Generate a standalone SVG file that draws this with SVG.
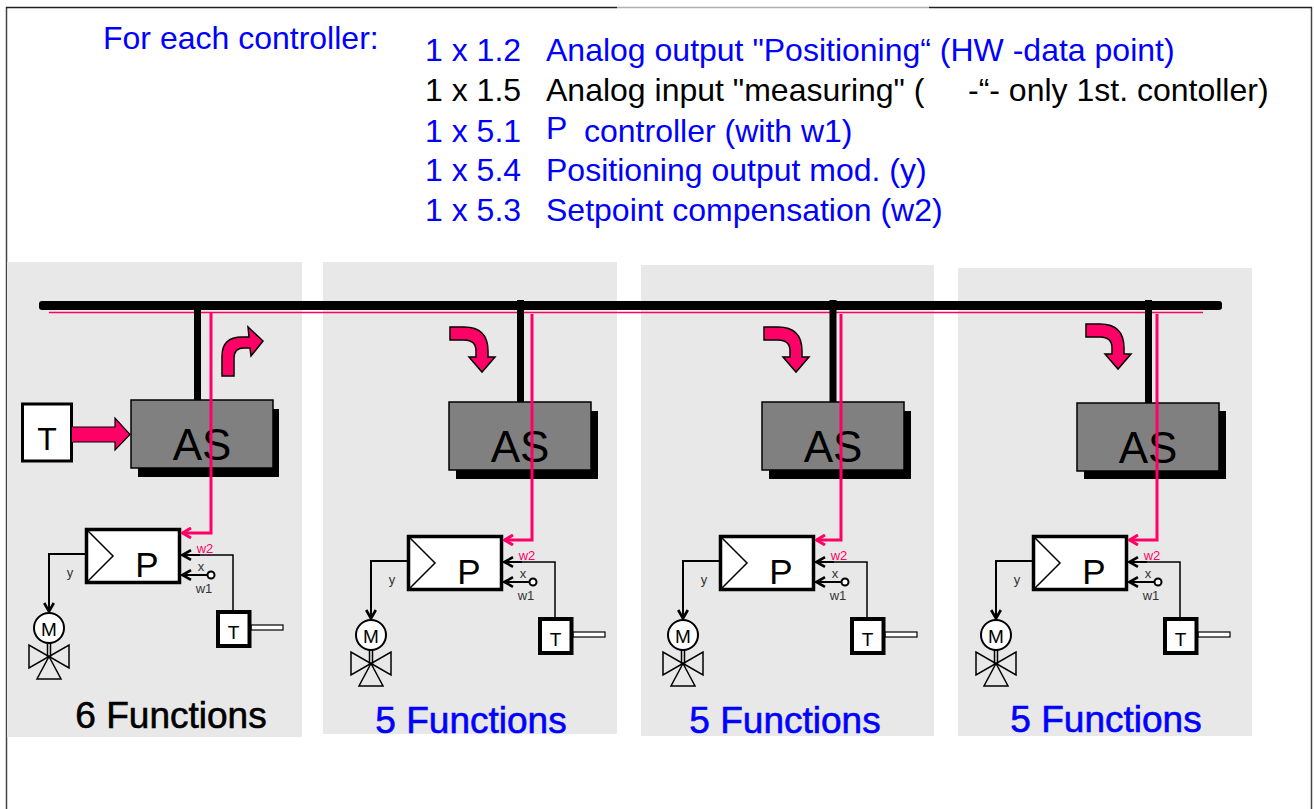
<svg xmlns="http://www.w3.org/2000/svg" width="1314" height="809" viewBox="0 0 1314 809">
<defs>
<style>
text{font-family:"Liberation Sans",Arial,sans-serif}
.panel{fill:#e8e8e8}
.top{font-size:32px}
.blue{fill:#0000ff}
.blk{fill:#000}
.as{fill:#808080;stroke:#000;stroke-width:1.5}
.shadow{fill:#000}
.astxt{font-size:44px;text-anchor:middle;fill:#000}
.bigarrow{fill:#ff0066;stroke:#000;stroke-width:1.5;stroke-linejoin:miter}
.pbox{fill:#fff;stroke:#000;stroke-width:3.5}
.thin{fill:none;stroke:#000;stroke-width:1.5}
.sig{fill:none;stroke:#000;stroke-width:2}
.pink{fill:none;stroke:#ff0066;stroke-width:3}
.lbl{font-size:13px;fill:#333}
.func{font-size:37px;text-anchor:middle;stroke-width:0.6}
.func.blk{stroke:#000}
.func.blue{stroke:#0000ff}
</style>
<marker id="ah" viewBox="0 0 12 12" refX="11" refY="6" markerWidth="12" markerHeight="12" markerUnits="userSpaceOnUse" orient="auto">
<path d="M2,1.2 L10.5,6 L2,10.8" fill="none" stroke="#000" stroke-width="2.6"/>
</marker>
<marker id="ahp" viewBox="0 0 12 12" refX="11" refY="6" markerWidth="12" markerHeight="12" markerUnits="userSpaceOnUse" orient="auto">
<path d="M2,1 L10.5,6 L2,11" fill="none" stroke="#ff0066" stroke-width="3"/>
</marker>
</defs>
<rect width="1314" height="809" fill="#fff"/>

<g id="frame">
<line x1="6.5" y1="7" x2="6.5" y2="809" stroke="#444" stroke-width="1.5"/>
<line x1="1311.5" y1="7" x2="1311.5" y2="809" stroke="#444" stroke-width="1.5"/>
<line x1="6" y1="7.5" x2="617" y2="7.5" stroke="#222" stroke-width="1.5"/>
<line x1="617" y1="7.5" x2="929" y2="7.5" stroke="#b0b0b0" stroke-width="1.5"/>
<line x1="929" y1="7.5" x2="1312" y2="7.5" stroke="#222" stroke-width="1.5"/>
</g>

<g id="header">
<text class="top blue" x="103" y="49">For each controller:</text>
<text class="top blue" y="61"><tspan x="425">1 x 1.2</tspan><tspan x="546">Analog output "Positioning“ (HW -data point)</tspan></text>
<text class="top blk" y="101"><tspan x="425">1 x 1.5</tspan><tspan x="546">Analog input "measuring" (</tspan><tspan x="968">-“- only 1st. contoller)</tspan></text>
<text class="top blue" y="142"><tspan x="425">1 x 5.1</tspan><tspan x="546" y="139">P</tspan><tspan x="584" y="142">controller (with w1)</tspan></text>
<text class="top blue" y="181"><tspan x="425">1 x 5.4</tspan><tspan x="546">Positioning output mod. (y)</tspan></text>
<text class="top blue" y="221"><tspan x="425">1 x 5.3</tspan><tspan x="546">Setpoint compensation (w2)</tspan></text>
</g>

<g id="panels">
<rect class="panel" x="7" y="262" width="295" height="475"/>
<rect class="panel" x="323" y="262" width="294" height="472"/>
<rect class="panel" x="641" y="265" width="293" height="471"/>
<rect class="panel" x="958" y="268" width="294" height="468"/>
</g>

<g id="bus">
<rect x="39" y="301" width="1183" height="9" rx="3" fill="#000"/>
<line x1="49" y1="312.5" x2="1203" y2="312.5" stroke="#ff0066" stroke-width="1.6"/>
</g>

<g id="connectors">
<rect x="194" y="309" width="7" height="92" fill="#000"/>
<rect x="517" y="300" width="7" height="103" fill="#000"/>
<rect x="829.5" y="300" width="7" height="103" fill="#000"/>
<rect x="1145" y="300" width="7" height="104" fill="#000"/>
</g>

<g id="as1"><rect class="shadow" x="138" y="409" width="141" height="68"/><rect class="as" x="131" y="400" width="142" height="68"/><text class="astxt" x="202" y="460">AS</text></g>
<g id="as2"><rect class="shadow" x="456" y="411" width="142" height="68"/><rect class="as" x="449" y="402" width="142" height="68"/><text class="astxt" x="520" y="462">AS</text></g>
<g id="as3"><rect class="shadow" x="769" y="411" width="142" height="68"/><rect class="as" x="762" y="402" width="142" height="68"/><text class="astxt" x="833" y="462">AS</text></g>
<g id="as4"><rect class="shadow" x="1084" y="411" width="142" height="68"/><rect class="as" x="1077" y="403" width="142" height="68"/><text class="astxt" x="1148" y="463">AS</text></g>

<g id="t-input">
<rect x="22.5" y="404" width="49" height="57" fill="#fff" stroke="#000" stroke-width="3"/>
<text x="47" y="450" font-size="32" text-anchor="middle">T</text>
</g>
<g id="input-arrow">
<path d="M72,427 L115,427 L115,418 L130,434.5 L115,450 L115,442 L72,442 Z" fill="#ff0066"/>
<path d="M73,427 L115,427 L115,418 L130,434.5 L115,450 L115,442 L73,442" fill="none" stroke="#000" stroke-width="1.2"/>
</g>

<g id="turn-arrows">
<path class="bigarrow" d="M222,376 L222,356 Q222,337 242,337 L249,337 L248,327 L263,341 L251,356 L250,348 L244,348 Q234,348 234,358 L234,376 Z"/>
<path class="bigarrow" d="M450,327 L464,327 Q488,327 488,351 L488,357 L495,357 L482,372 L469,357 L476,357 L476,351 Q476,340 464,340 L450,340 Z"/>
<path class="bigarrow" transform="translate(314,0)" d="M450,327 L464,327 Q488,327 488,351 L488,357 L495,357 L482,372 L469,357 L476,357 L476,351 Q476,340 464,340 L450,340 Z"/>
<path class="bigarrow" transform="translate(636,-3)" d="M450,327 L464,327 Q488,327 488,351 L488,357 L495,357 L482,372 L469,357 L476,357 L476,351 Q476,340 464,340 L450,340 Z"/>
</g>

<g id="signal-lines">
<g id="sig1">
<polyline class="sig" points="86,554 49,554 49,612" marker-end="url(#ah)"/>
<polyline class="thin" points="233,612 233,555 200,555"/>
<line class="sig" x1="200" y1="555" x2="182" y2="555" marker-end="url(#ah)"/>
<line class="sig" x1="207.5" y1="575" x2="182" y2="575" marker-end="url(#ah)"/>
</g>
<g id="sig2" transform="translate(322,7)">
<polyline class="sig" points="86,554 49,554 49,612" marker-end="url(#ah)"/>
<polyline class="thin" points="233,612 233,555 200,555"/>
<line class="sig" x1="200" y1="555" x2="182" y2="555" marker-end="url(#ah)"/>
<line class="sig" x1="207.5" y1="575" x2="182" y2="575" marker-end="url(#ah)"/>
</g>
<g id="sig3" transform="translate(634,7)">
<polyline class="sig" points="86,554 49,554 49,612" marker-end="url(#ah)"/>
<polyline class="thin" points="233,612 233,555 200,555"/>
<line class="sig" x1="200" y1="555" x2="182" y2="555" marker-end="url(#ah)"/>
<line class="sig" x1="207.5" y1="575" x2="182" y2="575" marker-end="url(#ah)"/>
</g>
<g id="sig4" transform="translate(947,7)">
<polyline class="sig" points="86,554 49,554 49,612" marker-end="url(#ah)"/>
<polyline class="thin" points="233,612 233,555 200,555"/>
<line class="sig" x1="200" y1="555" x2="182" y2="555" marker-end="url(#ah)"/>
<line class="sig" x1="207.5" y1="575" x2="182" y2="575" marker-end="url(#ah)"/>
</g>
</g>

<g id="controller1">
<rect class="pbox" x="86.5" y="529.5" width="93" height="53"/>
<polyline class="thin" points="87,530 113,556 87,582"/>
<text x="147" y="577" font-size="35" text-anchor="middle">P</text>
<text class="lbl" x="70" y="577" text-anchor="middle">y</text>
<text x="205" y="553" font-size="13" fill="#ff0066" text-anchor="middle">w2</text>
<text class="lbl" x="201" y="571" text-anchor="middle">x</text>
<text class="lbl" x="204" y="593" text-anchor="middle">w1</text>
<circle cx="211" cy="575" r="3.5" fill="#fff" stroke="#000" stroke-width="2"/>
</g>
<g id="controller2" transform="translate(322,7)">
<rect class="pbox" x="86.5" y="529.5" width="93" height="53"/>
<polyline class="thin" points="87,530 113,556 87,582"/>
<text x="147" y="577" font-size="35" text-anchor="middle">P</text>
<text class="lbl" x="70" y="577" text-anchor="middle">y</text>
<text x="205" y="553" font-size="13" fill="#ff0066" text-anchor="middle">w2</text>
<text class="lbl" x="201" y="571" text-anchor="middle">x</text>
<text class="lbl" x="204" y="593" text-anchor="middle">w1</text>
<circle cx="211" cy="575" r="3.5" fill="#fff" stroke="#000" stroke-width="2"/>
</g>
<g id="controller3" transform="translate(634,7)">
<rect class="pbox" x="86.5" y="529.5" width="93" height="53"/>
<polyline class="thin" points="87,530 113,556 87,582"/>
<text x="147" y="577" font-size="35" text-anchor="middle">P</text>
<text class="lbl" x="70" y="577" text-anchor="middle">y</text>
<text x="205" y="553" font-size="13" fill="#ff0066" text-anchor="middle">w2</text>
<text class="lbl" x="201" y="571" text-anchor="middle">x</text>
<text class="lbl" x="204" y="593" text-anchor="middle">w1</text>
<circle cx="211" cy="575" r="3.5" fill="#fff" stroke="#000" stroke-width="2"/>
</g>
<g id="controller4" transform="translate(947,7)">
<rect class="pbox" x="86.5" y="529.5" width="93" height="53"/>
<polyline class="thin" points="87,530 113,556 87,582"/>
<text x="147" y="577" font-size="35" text-anchor="middle">P</text>
<text class="lbl" x="70" y="577" text-anchor="middle">y</text>
<text x="205" y="553" font-size="13" fill="#ff0066" text-anchor="middle">w2</text>
<text class="lbl" x="201" y="571" text-anchor="middle">x</text>
<text class="lbl" x="204" y="593" text-anchor="middle">w1</text>
<circle cx="211" cy="575" r="3.5" fill="#fff" stroke="#000" stroke-width="2"/>
</g>

<g id="actuator1">
<line class="thin" x1="47.5" y1="642" x2="47.5" y2="657"/><line class="thin" x1="50.5" y1="642" x2="50.5" y2="657"/>
<circle cx="49" cy="628" r="15" fill="#fff" stroke="#000" stroke-width="2"/>
<text x="49" y="635.5" font-size="19" text-anchor="middle">M</text>
<polygon class="thin" points="29,645 29,668 49,656.5"/><polygon class="thin" points="69,645 69,668 49,656.5"/><polygon class="thin" points="49,656.5 37,679 61,679"/>
</g>
<g id="actuator2" transform="translate(322,7)">
<line class="thin" x1="47.5" y1="642" x2="47.5" y2="657"/><line class="thin" x1="50.5" y1="642" x2="50.5" y2="657"/>
<circle cx="49" cy="628" r="15" fill="#fff" stroke="#000" stroke-width="2"/>
<text x="49" y="635.5" font-size="19" text-anchor="middle">M</text>
<polygon class="thin" points="29,645 29,668 49,656.5"/><polygon class="thin" points="69,645 69,668 49,656.5"/><polygon class="thin" points="49,656.5 37,679 61,679"/>
</g>
<g id="actuator3" transform="translate(634,7)">
<line class="thin" x1="47.5" y1="642" x2="47.5" y2="657"/><line class="thin" x1="50.5" y1="642" x2="50.5" y2="657"/>
<circle cx="49" cy="628" r="15" fill="#fff" stroke="#000" stroke-width="2"/>
<text x="49" y="635.5" font-size="19" text-anchor="middle">M</text>
<polygon class="thin" points="29,645 29,668 49,656.5"/><polygon class="thin" points="69,645 69,668 49,656.5"/><polygon class="thin" points="49,656.5 37,679 61,679"/>
</g>
<g id="actuator4" transform="translate(947,7)">
<line class="thin" x1="47.5" y1="642" x2="47.5" y2="657"/><line class="thin" x1="50.5" y1="642" x2="50.5" y2="657"/>
<circle cx="49" cy="628" r="15" fill="#fff" stroke="#000" stroke-width="2"/>
<text x="49" y="635.5" font-size="19" text-anchor="middle">M</text>
<polygon class="thin" points="29,645 29,668 49,656.5"/><polygon class="thin" points="69,645 69,668 49,656.5"/><polygon class="thin" points="49,656.5 37,679 61,679"/>
</g>

<g id="sensor1">
<rect x="251" y="625" width="32" height="5" fill="#fff" stroke="#000" stroke-width="1.2"/>
<rect x="218" y="612" width="31.5" height="34" fill="#fff" stroke="#000" stroke-width="4"/>
<text x="233.5" y="639" font-size="19" text-anchor="middle">T</text>
</g>
<g id="sensor2" transform="translate(322,7)">
<rect x="251" y="625" width="32" height="5" fill="#fff" stroke="#000" stroke-width="1.2"/>
<rect x="218" y="612" width="31.5" height="34" fill="#fff" stroke="#000" stroke-width="4"/>
<text x="233.5" y="639" font-size="19" text-anchor="middle">T</text>
</g>
<g id="sensor3" transform="translate(634,7)">
<rect x="251" y="625" width="32" height="5" fill="#fff" stroke="#000" stroke-width="1.2"/>
<rect x="218" y="612" width="31.5" height="34" fill="#fff" stroke="#000" stroke-width="4"/>
<text x="233.5" y="639" font-size="19" text-anchor="middle">T</text>
</g>
<g id="sensor4" transform="translate(947,7)">
<rect x="251" y="625" width="32" height="5" fill="#fff" stroke="#000" stroke-width="1.2"/>
<rect x="218" y="612" width="31.5" height="34" fill="#fff" stroke="#000" stroke-width="4"/>
<text x="233.5" y="639" font-size="19" text-anchor="middle">T</text>
</g>

<g id="pink-setpoint">
<path class="pink" d="M211,313 V533 H182" marker-end="url(#ahp)"/>
<path class="pink" d="M532,314 V540 H504" marker-end="url(#ahp)"/>
<path class="pink" d="M841,314 V540 H816" marker-end="url(#ahp)"/>
<path class="pink" d="M1157,314 V540 H1129" marker-end="url(#ahp)"/>
</g>

<g id="labels">
<text class="func blk" x="171" y="728">6 Functions</text>
<text class="func blue" x="471" y="733">5 Functions</text>
<text class="func blue" x="785" y="733">5 Functions</text>
<text class="func blue" x="1106" y="732">5 Functions</text>
</g>
</svg>
